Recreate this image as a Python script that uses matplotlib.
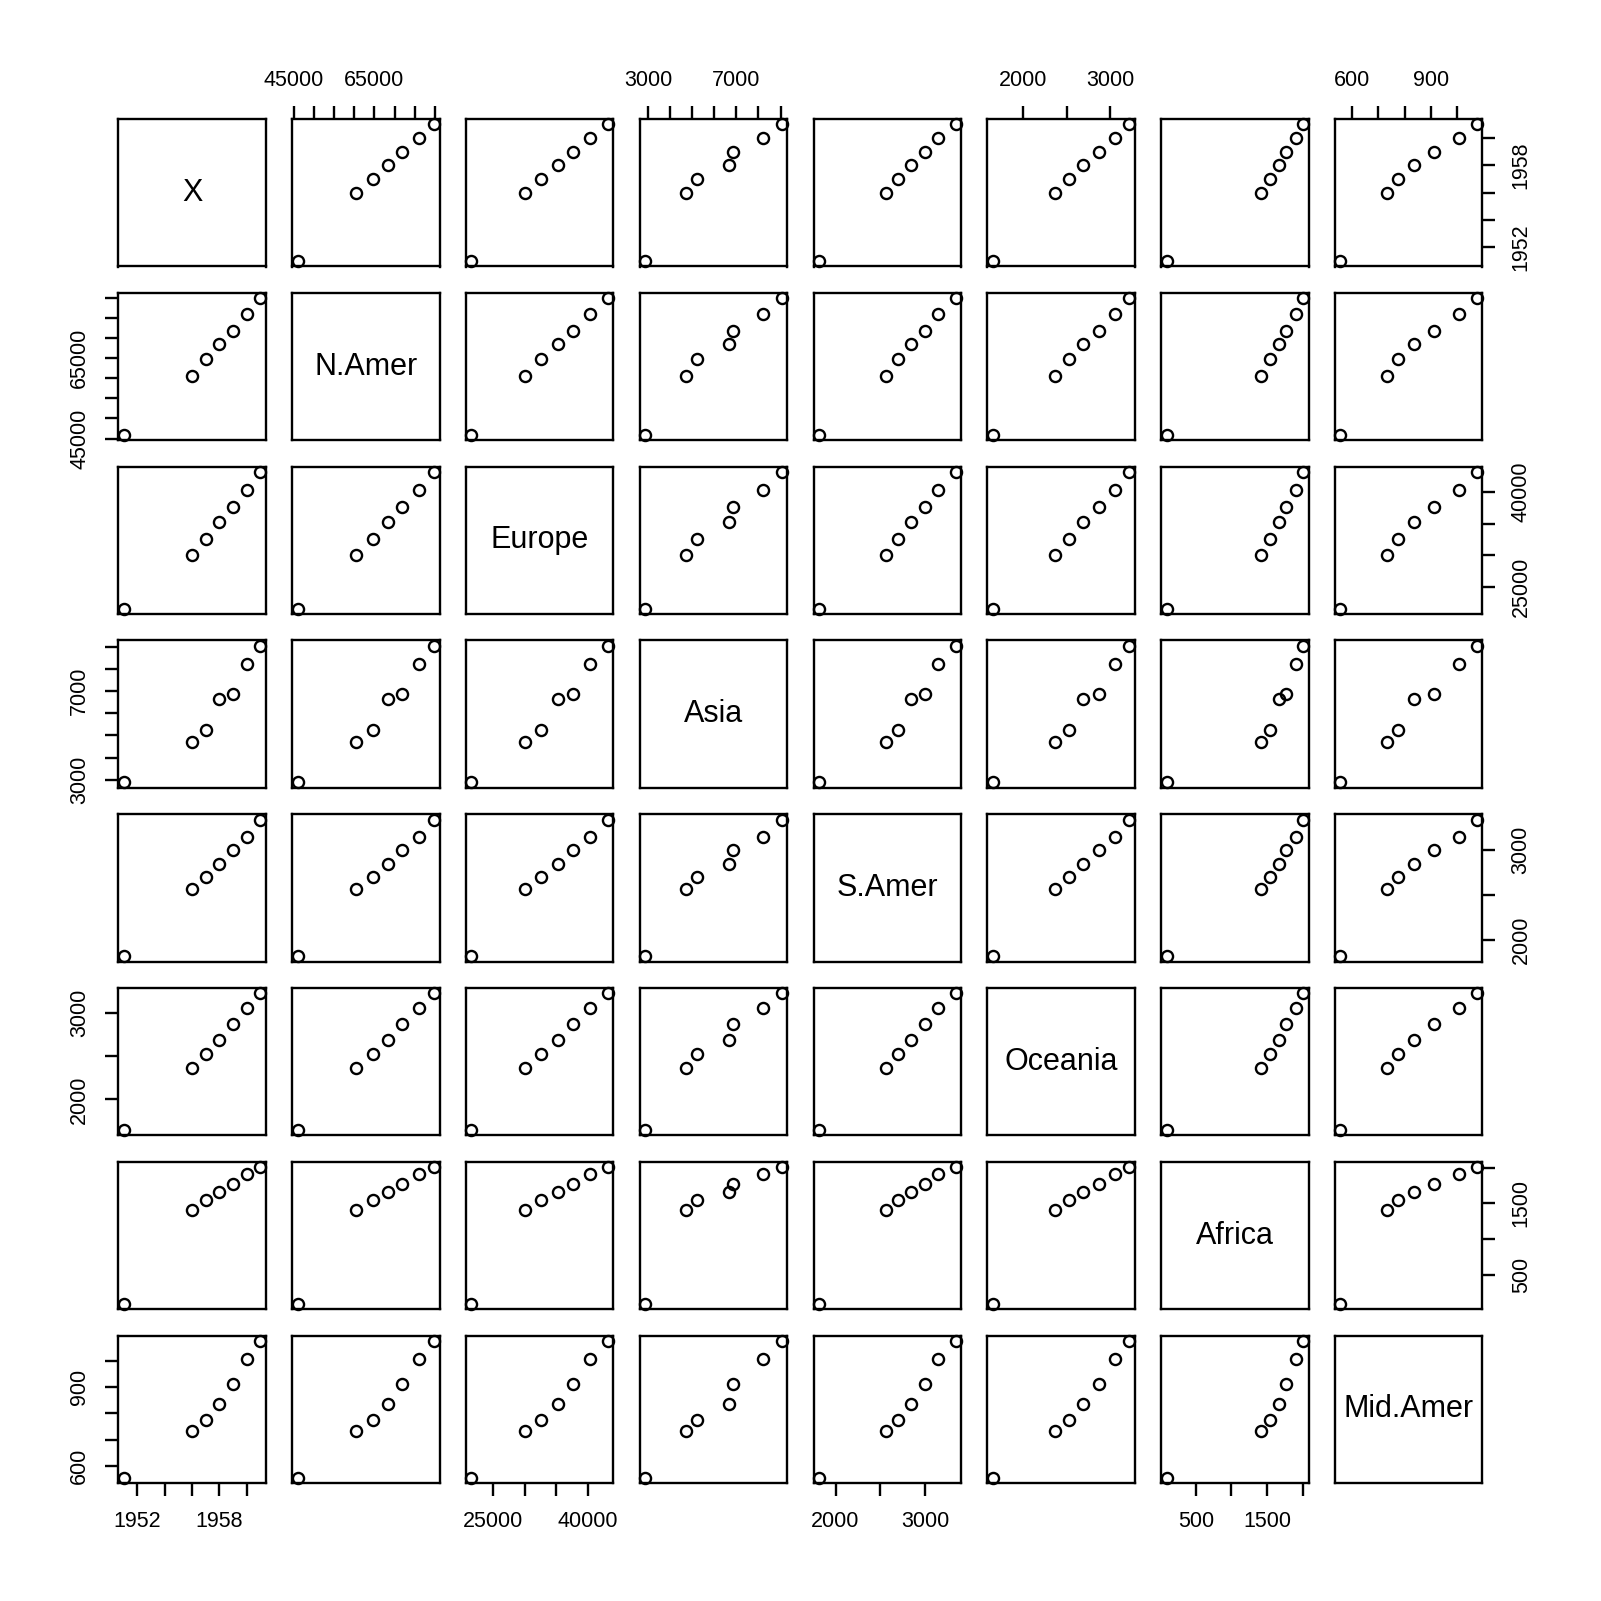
import matplotlib
matplotlib.use("Agg")
import matplotlib.pyplot as plt
import numpy as np

plt.rcParams['font.family'] = ['Liberation Sans', 'DejaVu Sans']

names = ["X", "N.Amer", "Europe", "Asia", "S.Amer", "Oceania", "Africa", "Mid.Amer"]
X = [1951, 1956, 1957, 1958, 1959, 1960, 1961]
N_Amer = [45939, 60423, 64721, 68484, 71799, 76036, 79831]
Europe = [21574, 29990, 32510, 35218, 37598, 40341, 43173]
Asia = [2876, 4708, 5230, 6662, 6856, 8220, 9053]
S_Amer = [1815, 2568, 2695, 2845, 3000, 3145, 3338]
Oceania = [1646, 2366, 2526, 2691, 2868, 3054, 3224]
Africa = [89, 1411, 1546, 1663, 1769, 1905, 2005]
Mid_Amer = [555, 733, 773, 836, 911, 1008, 1076]
series = [X, N_Amer, Europe, Asia, S_Amer, Oceania, Africa, Mid_Amer]

ticks = [
    [1952, 1954, 1956, 1958, 1960],
    [45000, 50000, 55000, 60000, 65000, 70000, 75000, 80000],
    [25000, 30000, 35000, 40000],
    [3000, 4000, 5000, 6000, 7000, 8000, 9000],
    [2000, 2500, 3000],
    [2000, 2500, 3000],
    [500, 1000, 1500, 2000],
    [600, 700, 800, 900, 1000],
]
tick_labels = [
    ["1952", "", "", "1958", ""],
    ["45000", "", "", "", "65000", "", "", ""],
    ["25000", "", "", "40000"],
    ["3000", "", "", "", "7000", "", ""],
    ["2000", "", "3000"],
    ["2000", "", "3000"],
    ["500", "", "1500", ""],
    ["600", "", "", "900", ""],
]

W = 1601
fig = plt.figure(figsize=(W / 100, W / 100), dpi=100)

n = len(names)
left0 = 118.3 / W
pitch = 173.8 / W
size = 147.5 / W
top0 = 1 - 119.0 / W

tick_len = 13 * 0.72
lw = 1.7
fs = 15.5
pad = 11

def lims(v):
    lo, hi = min(v), max(v)
    r = hi - lo
    return lo - 0.04 * r, hi + 0.04 * r

for i in range(n):
    for j in range(n):
        ax = fig.add_axes([left0 + j * pitch, top0 - size - i * pitch, size, size])
        for s in ax.spines.values():
            s.set_linewidth(lw)
        ax.set_xlim(*lims(series[j]))
        ax.set_ylim(*lims(series[i]))
        ax.tick_params(which='both', direction='out', length=tick_len, width=lw,
                       labelsize=fs, pad=pad,
                       bottom=False, top=False, left=False, right=False,
                       labelbottom=False, labeltop=False, labelleft=False, labelright=False)
        ax.set_xticks(ticks[j])
        ax.set_xticklabels(tick_labels[j])
        ax.set_yticks(ticks[i])
        ax.set_yticklabels(tick_labels[i], rotation=90, va='center')
        if i == j:
            ax.text(0.5, 0.5, names[i], transform=ax.transAxes, ha='center', va='center',
                    fontsize=22)
        else:
            ax.plot(series[j], series[i], linestyle='none', marker='o', markersize=8,
                    markerfacecolor='none', markeredgecolor='black', markeredgewidth=1.7,
                    clip_on=False)
        if i == 0 and j % 2 == 1:
            ax.tick_params(top=True, labeltop=True)
        if i == n - 1 and j % 2 == 0:
            ax.tick_params(bottom=True, labelbottom=True)
        if j == 0 and i % 2 == 1:
            ax.tick_params(left=True, labelleft=True)
        if j == n - 1 and i % 2 == 0:
            ax.tick_params(right=True, labelright=True)

fig.savefig("out.png", dpi=100, facecolor='white')
